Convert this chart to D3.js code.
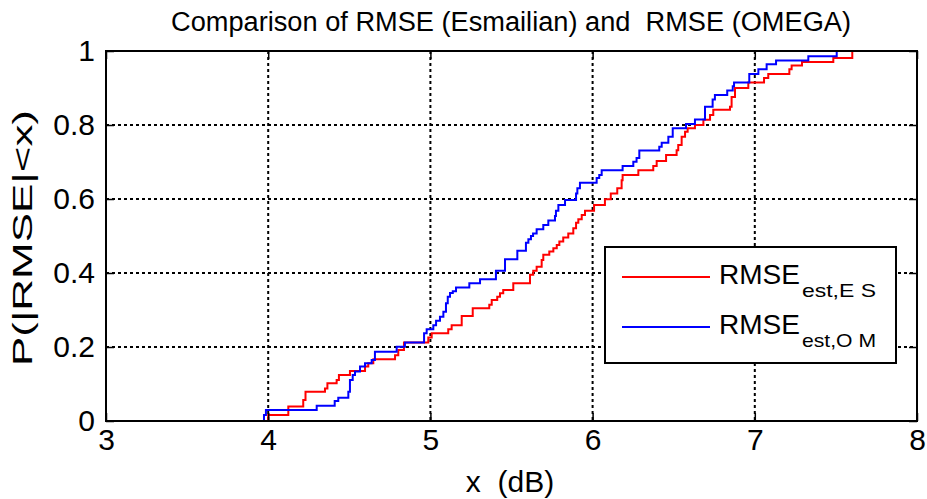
<!DOCTYPE html>
<html><head><meta charset="utf-8">
<script src="https://cdn.jsdelivr.net/npm/d3@7"></script>
<style>
body{margin:0;background:#fff}
svg{display:block}
text{font-family:"Liberation Sans",Arial,Helvetica,sans-serif;fill:#000;white-space:pre}
</style>
</head><body>
<svg id="chart" width="927" height="499"></svg>
<script>
// ---- data ----
const titleText = "Comparison of RMSE (Esmailian) and  RMSE (OMEGA)";
const xLabelText = "x  (dB)";
const yLabelText = "P(|RMSE|<x)";
const xTicks = [3, 4, 5, 6, 7, 8];
const yTicks = [0, 0.2, 0.4, 0.6, 0.8, 1];
const yTickLabels = ["0", "0.2", "0.4", "0.6", "0.8", "1"];

// RMSE est, ES (red) : step positions and levels
const esX = [4.000,4.124,4.216,4.230,4.350,4.365,4.422,4.436,4.504,4.597,4.617,4.648,4.782,4.802,4.837,
  4.987,5.008,5.110,5.131,5.193,5.261,5.363,5.378,5.412,5.429,5.449,5.511,5.614,5.634,5.655,5.686,5.696,
  5.733,5.758,5.779,5.795,5.819,5.850,5.881,5.898,5.912,5.933,5.953,6.009,6.076,6.112,6.152,6.179,6.185,
  6.282,6.374,6.395,6.453,6.518,6.528,6.549,6.570,6.586,6.631,6.683,6.724,6.744,6.847,6.857,6.878,6.960,
  7.057,7.083,7.213,7.227,7.291,7.484,7.601];
const esY = [0.016,0.039,0.057,0.079,0.088,0.102,0.111,0.124,0.135,0.147,0.156,0.167,0.178,0.192,0.212,
  0.226,0.237,0.248,0.259,0.284,0.305,0.314,0.327,0.336,0.345,0.354,0.372,0.395,0.406,0.417,0.435,0.449,
  0.458,0.467,0.476,0.485,0.496,0.507,0.521,0.536,0.545,0.557,0.568,0.584,0.599,0.615,0.629,0.651,0.665,
  0.678,0.689,0.703,0.719,0.732,0.746,0.768,0.782,0.791,0.800,0.814,0.827,0.841,0.849,0.876,0.900,0.915,
  0.927,0.938,0.951,0.961,0.970,0.981,1.000];

// RMSE est, OM (blue)
const omX = [3.974,3.986,4.299,4.410,4.432,4.494,4.504,4.521,4.535,4.566,4.597,4.638,4.658,4.792,4.843,
  4.961,4.977,5.018,5.035,5.059,5.080,5.096,5.107,5.121,5.138,5.158,5.240,5.306,5.404,5.460,5.536,5.589,
  5.604,5.620,5.633,5.655,5.696,5.727,5.768,5.774,5.789,5.830,5.898,5.906,5.922,6.025,6.041,6.056,6.185,
  6.251,6.271,6.288,6.411,6.426,6.467,6.494,6.576,6.631,6.693,6.740,6.754,6.830,6.864,6.872,6.966,7.022,
  7.073,7.131,7.330,7.505];
const omY = [0.016,0.030,0.041,0.054,0.063,0.079,0.111,0.124,0.134,0.147,0.156,0.165,0.187,0.201,0.212,
  0.237,0.248,0.259,0.271,0.282,0.295,0.318,0.336,0.346,0.351,0.361,0.372,0.383,0.406,0.437,0.460,0.482,
  0.491,0.500,0.507,0.518,0.530,0.542,0.554,0.568,0.584,0.597,0.615,0.629,0.644,0.657,0.665,0.678,0.689,
  0.701,0.711,0.731,0.741,0.752,0.768,0.791,0.803,0.815,0.849,0.869,0.881,0.893,0.905,0.915,0.938,0.951,
  0.964,0.974,0.986,1.000];

const seriesNames = ["est,E S", "est,O M"];
const seriesColors = ["#ff0000", "#0000ff"];

// ---- layout ----
const svg = d3.select("#chart");
const L = 106, R = 917, T = 51, B = 421;
const x = d3.scaleLinear().domain([3, 8]).range([L, R]);
const y = d3.scaleLinear().domain([0, 1]).range([B, T]);

// grid
const grid = svg.append("g");
grid.selectAll(".gx").data(xTicks.slice(1, -1)).enter().append("line")
  .attr("x1", d => x(d)).attr("x2", d => x(d)).attr("y1", T).attr("y2", B)
  .attr("stroke", "#000").attr("stroke-width", 2).attr("stroke-dasharray", "3,3");
grid.selectAll(".gy").data(yTicks.slice(1, -1)).enter().append("line")
  .attr("y1", d => y(d)).attr("y2", d => y(d)).attr("x1", L).attr("x2", R)
  .attr("stroke", "#000").attr("stroke-width", 2).attr("stroke-dasharray", "3,3");

// curves
svg.append("clipPath").attr("id", "clip").append("rect")
  .attr("x", L).attr("y", T - 2).attr("width", R - L).attr("height", B - T + 2);
const line = d3.line().x(d => x(d[0])).y(d => y(d[1])).curve(d3.curveStepAfter);
function pts(xs, ys) { const p = [[xs[0], 0]]; xs.forEach((v, i) => p.push([v, ys[i]])); return p; }
[[esX, esY], [omX, omY]].forEach((s, i) => {
  svg.append("path").attr("clip-path", "url(#clip)")
    .attr("d", line(pts(s[0], s[1])))
    .attr("fill", "none").attr("stroke", seriesColors[i]).attr("stroke-width", 2);
});

// axes box and ticks
const xAxisB = d3.axisBottom(x).tickValues(xTicks).tickSize(-8).tickPadding(8).tickFormat(d3.format("d"));
const xAxisT = d3.axisTop(x).tickValues(xTicks).tickSize(-8).tickFormat("");
const yAxisL = d3.axisLeft(y).tickValues(yTicks).tickSize(-8).tickPadding(11).tickFormat((d, i) => yTickLabels[i]);
const yAxisR = d3.axisRight(y).tickValues(yTicks).tickSize(-8).tickFormat("");
function style(g) {
  g.select(".domain").remove();
  g.selectAll(".tick line").attr("stroke", "#000").attr("stroke-width", 1.5);
  g.selectAll(".tick text").attr("font-size", 30).attr("font-family", "Liberation Sans, Arial, sans-serif").attr("fill", "#000");
}
svg.append("g").attr("transform", `translate(0,${B})`).call(xAxisB).call(style);
svg.append("g").attr("transform", `translate(0,${T})`).call(xAxisT).call(style);
svg.append("g").attr("transform", `translate(${L},0)`).call(yAxisL).call(style);
svg.append("g").attr("transform", `translate(${R},0)`).call(yAxisR).call(style);
svg.append("rect").attr("x", L).attr("y", T).attr("width", R - L).attr("height", B - T)
  .attr("fill", "none").attr("stroke", "#000").attr("stroke-width", 2);

// title and labels
svg.append("text").attr("x", 511).attr("y", 31).attr("text-anchor", "middle")
  .attr("font-size", 27).attr("textLength", 680).attr("lengthAdjust", "spacingAndGlyphs").text(titleText);
svg.append("text").attr("x", 510).attr("y", 492).attr("text-anchor", "middle")
  .attr("font-size", 30).text(xLabelText);
svg.append("text").attr("transform", "translate(32,238) rotate(-90)").attr("text-anchor", "middle")
  .attr("font-size", 27).attr("textLength", 256).attr("lengthAdjust", "spacingAndGlyphs").text(yLabelText);

// legend
const lg = svg.append("g");
lg.append("rect").attr("x", 605).attr("y", 247).attr("width", 291).attr("height", 116)
  .attr("fill", "#fff").attr("stroke", "#000").attr("stroke-width", 2);
seriesNames.forEach((n, i) => {
  const ly = 277 + i * 50;
  lg.append("line").attr("x1", 622).attr("x2", 710).attr("y1", ly).attr("y2", ly)
    .attr("stroke", seriesColors[i]).attr("stroke-width", 2);
  lg.append("text").attr("x", 719).attr("y", ly + 7).attr("font-size", 27)
    .attr("textLength", 81).attr("lengthAdjust", "spacingAndGlyphs").text("RMSE");
  lg.append("text").attr("x", 802).attr("y", ly + 20).attr("font-size", 19)
    .attr("textLength", 74).attr("lengthAdjust", "spacingAndGlyphs").text(n);
});
</script>
</body></html>
